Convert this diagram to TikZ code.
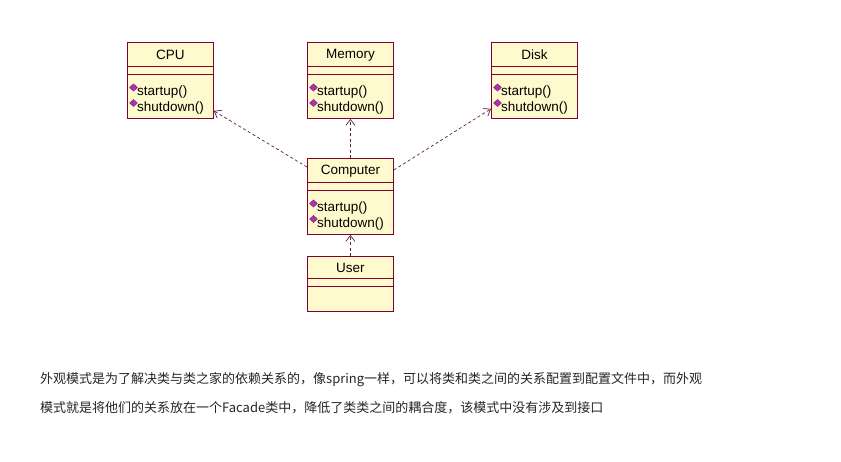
\documentclass[tikz,border=0pt]{standalone}
\usepackage{fontspec}
\setmainfont{Liberation Sans}
\newfontfamily\cjk{Noto Sans CJK SC}
\usetikzlibrary{arrows.meta,shapes.geometric}
\definecolor{umlborder}{HTML}{800030}
\definecolor{umlfill}{HTML}{FFFACD}
\definecolor{umlop}{HTML}{B030B0}
\definecolor{deparrow}{HTML}{5A2048}
\tikzset{
  x=1pt,y=1pt,
  classbox/.style={draw=umlborder, fill=umlfill, line width=0.8pt, minimum width=86pt, inner sep=0pt, anchor=north west},
  divider/.style={draw=umlborder, line width=0.8pt},
  titletext/.style={font=\fontsize{13.5}{15}\selectfont, inner sep=0pt},
  optext/.style={font=\fontsize{13.5}{15}\selectfont, inner sep=0pt, anchor=west},
  opicon/.style={diamond, draw=umlop!60!black, fill=umlop, line width=0.3pt, minimum width=8pt, minimum height=7.5pt, inner sep=0pt},
  dep/.style={draw=deparrow, line width=0.7pt, dash pattern=on 3pt off 2.5pt, -{Straight Barb[length=6pt,width=9pt,line width=0.7pt]}},
  bodytext/.style={font=\cjk\fontsize{13}{15}\selectfont, text=black!85, inner sep=0pt, anchor=west}
}
\newcommand\umlclass[4]{%
  \node[classbox, minimum height=76pt] (#1) at (#2,#3) {};
  \draw[divider] ([yshift=-24.5pt]#1.north west) -- ([yshift=-24.5pt]#1.north east);
  \draw[divider] ([yshift=-32pt]#1.north west) -- ([yshift=-32pt]#1.north east);
  \node[titletext] (#1-title) at ([yshift=-13pt]#1.north) {#4};
  \node[opicon] (#1-i1) at ([xshift=6.5pt,yshift=-45.5pt]#1.north west) {};
  \node[opicon] (#1-i2) at ([xshift=6.5pt,yshift=-61pt]#1.north west) {};
  \node[optext] (#1-op1) at ([xshift=10pt,yshift=-50.5pt]#1.north west) {startup()};
  \node[optext] (#1-op2) at ([xshift=10pt,yshift=-66pt]#1.north west) {shutdown()};
}
\begin{document}
\begin{tikzpicture}
\useasboundingbox[fill=white] (0,0) rectangle (841,-461);
\umlclass{cpu}{127}{-42}{CPU}
\umlclass{memory}{307}{-42}{Memory}
\umlclass{disk}{491}{-42}{Disk}
\umlclass{computer}{307}{-158}{Computer}
% User
\node[classbox, minimum height=55pt] (user) at (307,-256) {};
\draw[divider] ([yshift=-22pt]user.north west) -- ([yshift=-22pt]user.north east);
\draw[divider] ([yshift=-30pt]user.north west) -- ([yshift=-30pt]user.north east);
\node[titletext] (user-title) at ([yshift=-12pt]user.north) {User};
% dependencies
\coordinate (cpuhead) at ([yshift=8pt]cpu.south east);
\coordinate (diskhead) at ([yshift=10pt]disk.south west);
\coordinate (comptl) at ([yshift=-9pt]computer.north west);
\coordinate (comptr) at ([yshift=-12pt]computer.north east);
\draw[dep] (comptl) -- (cpuhead);
\draw[dep] (comptr) -- (diskhead);
\draw[dep] (computer.north) -- (memory.south);
\draw[dep] (user.north) -- (computer.south);
% text
\node[bodytext] (line1) at (40,-380) {外观模式是为了解决类与类之家的依赖关系的，像spring一样，可以将类和类之间的关系配置到配置文件中，而外观};
\node[bodytext] (line2) at (40,-408) {模式就是将他们的关系放在一个Facade类中，降低了类类之间的耦合度，该模式中没有涉及到接口};
\end{tikzpicture}
\end{document}
